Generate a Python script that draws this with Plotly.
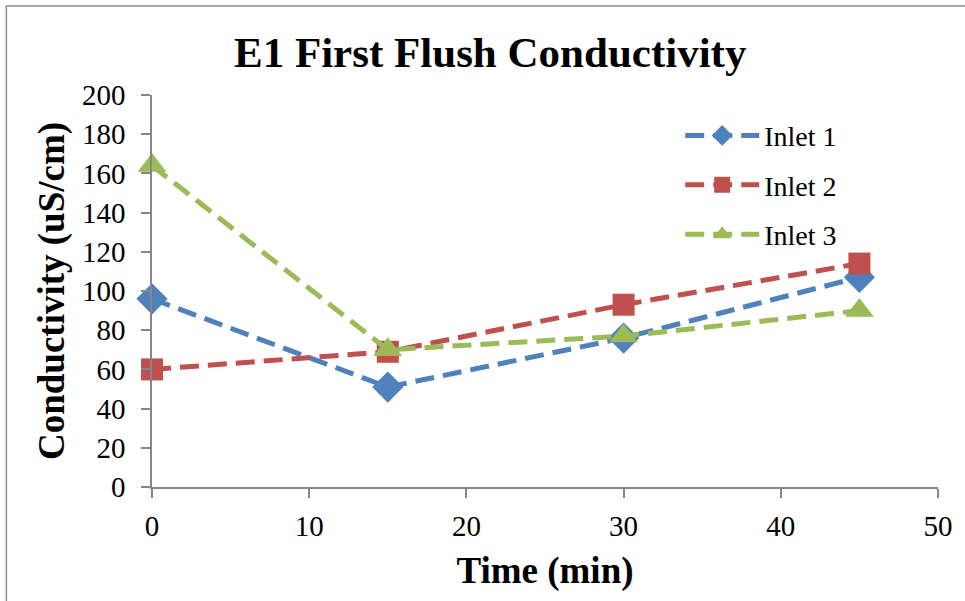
import plotly.graph_objects as go

time_min = [0, 15, 30, 45]
inlet1 = [96, 51, 76, 107]
inlet2 = [60, 69, 93, 114]
inlet3 = [164, 70, 77, 90]

series = [
    ("Inlet 1", inlet1, "#4F81BD", "diamond", 24),
    ("Inlet 2", inlet2, "#C0504D", "square", 22),
    ("Inlet 3", inlet3, "#9BBB59", "triangle-up", 25),
]

fig = go.Figure()
for i, (name, vals, col, sym, sz) in enumerate(series):
    fig.add_trace(go.Scatter(
        x=time_min, y=vals, name=name, mode="lines+markers",
        legendgroup=f"g{i}",
        line=dict(color=col, width=5, dash="19px,9px"),
        marker=dict(symbol=sym, size=sz, color=col),
        cliponaxis=False,
    ))

font = "Liberation Serif, Times New Roman, serif"
axis_common = dict(
    showline=True, linecolor="#868686", linewidth=1.5,
    ticks="outside", ticklen=9, tickcolor="#868686", tickwidth=1.5,
    showgrid=False, zeroline=False,
    tickfont=dict(family=font, size=29, color="black"),
)

fig.update_layout(
    width=965, height=601,
    margin=dict(l=152, r=25, t=95, b=114),
    paper_bgcolor="white", plot_bgcolor="white",
    title=dict(text="<b>E1 First Flush Conductivity</b>", x=0.508, xanchor="center",
               y=0.913, yanchor="middle",
               font=dict(family=font, size=43, color="black")),
    xaxis=dict(range=[0, 50], tickvals=[0, 10, 20, 30, 40, 50],
               ticklabelstandoff=3,
               title=dict(text="<b>Time (min)</b>", font=dict(family=font, size=37, color="black"),
                          standoff=17),
               **axis_common),
    yaxis=dict(range=[0, 200], tickvals=list(range(0, 201, 20)),
               ticklabelstandoff=10,
               title=dict(text="<b>Conductivity (uS/cm)</b>", font=dict(family=font, size=37, color="black"),
                          standoff=6),
               **axis_common),
    legend=dict(x=0.672, y=0.96, xanchor="left", yanchor="top",
                font=dict(family=font, size=28, color="black"),
                itemwidth=74, tracegroupgap=10, bgcolor="rgba(0,0,0,0)"),
    showlegend=True,
    shapes=[dict(type="rect", xref="paper", yref="paper",
                 x0=-0.1853, x1=1.2, y0=-0.5, y1=1.227,
                 line=dict(color="#8C8C8C", width=1.5), fillcolor="rgba(0,0,0,0)", layer="below")],
)

fig.write_html("out.html")
